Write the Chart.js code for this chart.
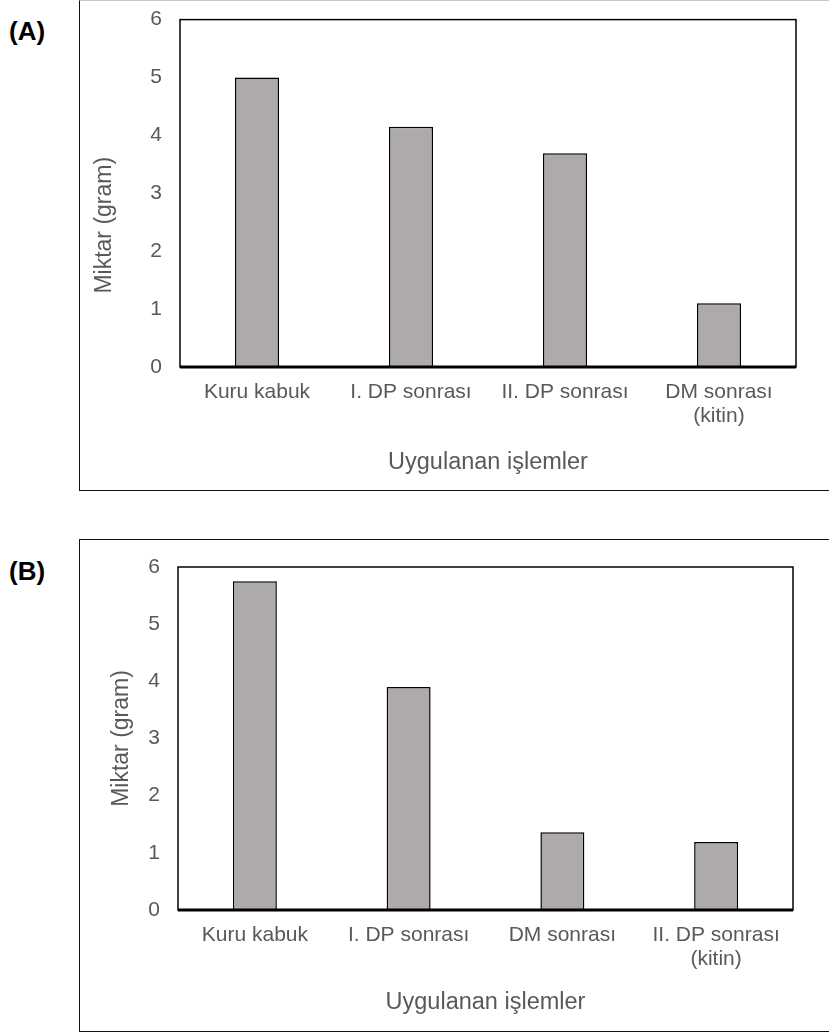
<!DOCTYPE html>
<html>
<head>
<meta charset="utf-8">
<script src="https://cdn.jsdelivr.net/npm/chart.js@4.4.1/dist/chart.umd.min.js"></script>
<style>
  html, body { margin: 0; padding: 0; background: #fff; }
  body { width: 829px; height: 1032px; position: relative; overflow: hidden; font-family: "Liberation Sans", Arial, sans-serif; }
  .box { position: absolute; left: 79px; width: 800px; border: 1px solid #111; border-right: none; box-sizing: border-box; }
  .tag { position: absolute; left: 9px; font-weight: bold; font-size: 26px; line-height: 30px; color: #000; }
  canvas { position: absolute; left: 0; }
</style>
</head>
<body>
<div class="box" style="top:0; height:491px; border-top-color:#c8c8c8;"></div>
<div class="box" style="top:539px; height:493px;"></div>
<div class="tag" style="top:16px;">(A)</div>
<div class="tag" style="top:556px;">(B)</div>
<canvas id="chartA" width="829" height="501" style="top:-11px;"></canvas>
<canvas id="chartB" width="829" height="512" style="top:520px;"></canvas>
<script>
// panel A
const labelsA = ["Kuru kabuk", "I. DP sonrası", "II. DP sonrası", ["DM sonrası", "(kitin)"]];
const valuesA = [5.0, 4.15, 3.69, 1.10];
// panel B
const labelsB = ["Kuru kabuk", "I. DP sonrası", "DM sonrası", ["II. DP sonrası", "(kitin)"]];
const valuesB = [5.75, 3.90, 1.36, 1.19];

const yTitle = "Miktar (gram)";
const xTitle = "Uygulanan işlemler";
const yMin = 0, yMax = 6, yStep = 1;

const tickColor = "#595959";
const barFill = "#aeaaaa";
const fontFamily = "'Liberation Sans', Arial, sans-serif";

// plot-area frame, with a heavier baseline like the original
const framePlugin = {
  id: "frame",
  afterDatasetsDraw(chart) {
    const { ctx, chartArea: a } = chart;
    ctx.save();
    ctx.strokeStyle = "#000";
    ctx.lineWidth = 1.5;
    ctx.strokeRect(a.left, a.top, a.right - a.left, a.bottom - a.top);
    ctx.lineWidth = 3;
    ctx.beginPath();
    ctx.moveTo(a.left, a.bottom);
    ctx.lineTo(a.right, a.bottom);
    ctx.stroke();
    ctx.restore();
  },
};

function makePanel(canvasId, labels, values, g) {
  const ctx = document.getElementById(canvasId).getContext("2d");
  return new Chart(ctx, {
    type: "bar",
    data: {
      labels: labels,
      datasets: [{
        data: values,
        backgroundColor: barFill,
        borderColor: "#000",
        borderWidth: 1.5,
        barPercentage: 0.286,
        categoryPercentage: 1,
      }],
    },
    options: {
      responsive: false,
      animation: false,
      events: [],
      layout: { padding: { left: g.padLeft, top: g.padTop, right: g.padRight, bottom: g.padBottom } },
      plugins: { legend: { display: false }, tooltip: { enabled: false } },
      scales: {
        x: {
          grid: { display: false, drawTicks: false },
          border: { display: false },
          ticks: { color: tickColor, padding: 13, maxRotation: 0, autoSkip: false, font: { family: fontFamily, size: 21, lineHeight: 1.15 } },
          title: { display: true, text: xTitle, color: tickColor, padding: 0, font: { family: fontFamily, size: 23.5, lineHeight: 1.2 } },
          afterFit: (s) => { s.height = g.xHeight; },
        },
        y: {
          min: yMin,
          max: yMax,
          grid: { display: false, drawTicks: false },
          border: { display: false },
          ticks: { stepSize: yStep, color: tickColor, padding: 18, font: { family: fontFamily, size: 21 } },
          title: { display: true, text: g.yTitle, color: tickColor, padding: 0, font: { family: fontFamily, size: 23, lineHeight: 1.2 } },
          afterFit: (s) => { s.width = g.yWidth; },
        },
      },
    },
    plugins: [framePlugin],
  });
}

// Panel A's axis title sits lower than centre in the original
makePanel("chartA", labelsA, valuesA, {
  padLeft: 91, padTop: 19, padRight: 33, padBottom: 13,
  yWidth: 89, xHeight: 110,
  yTitle: yTitle + "\u00a0".repeat(10),
});
makePanel("chartB", labelsB, valuesB, {
  padLeft: 108, padTop: 47, padRight: 36, padBottom: 15,
  yWidth: 70, xHeight: 107,
  yTitle: yTitle,
});
</script>
</body>
</html>
